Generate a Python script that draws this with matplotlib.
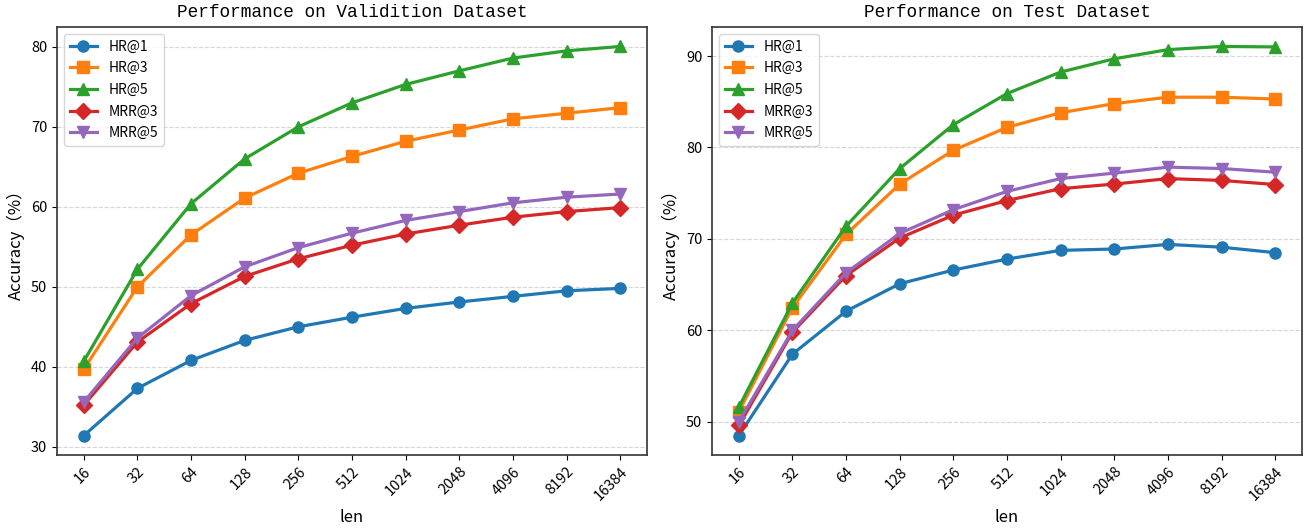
import matplotlib
matplotlib.use("Agg")
import matplotlib.pyplot as plt

plt.rcParams['font.family'] = ['Noto Sans CJK SC', 'DejaVu Sans']
plt.rcParams['axes.unicode_minus'] = False

lens = ["16", "32", "64", "128", "256", "512", "1024", "2048", "4096", "8192", "16384"]
series_names = ["HR@1", "HR@3", "HR@5", "MRR@3", "MRR@5"]
markers = ["o", "s", "^", "D", "v"]

val_hr1 = [31.4, 37.3, 40.8, 43.3, 45.0, 46.2, 47.3, 48.1, 48.8, 49.5, 49.8]
val_hr3 = [39.7, 50.0, 56.5, 61.1, 64.2, 66.3, 68.2, 69.6, 71.0, 71.7, 72.4]
val_hr5 = [40.7, 52.2, 60.4, 66.0, 70.0, 73.0, 75.3, 77.0, 78.6, 79.5, 80.05]
val_mrr3 = [35.2, 43.1, 47.9, 51.3, 53.5, 55.2, 56.6, 57.7, 58.7, 59.4, 59.9]
val_mrr5 = [35.6, 43.6, 48.9, 52.5, 54.9, 56.7, 58.3, 59.4, 60.5, 61.2, 61.6]

test_hr1 = [48.5, 57.4, 62.1, 65.1, 66.6, 67.8, 68.75, 68.9, 69.4, 69.1, 68.5]
test_hr3 = [51.1, 62.5, 70.5, 76.0, 79.7, 82.2, 83.8, 84.8, 85.5, 85.5, 85.3]
test_hr5 = [51.6, 63.0, 71.4, 77.7, 82.5, 85.9, 88.25, 89.7, 90.7, 91.05, 91.0]
test_mrr3 = [49.6, 59.8, 66.0, 70.1, 72.6, 74.2, 75.5, 76.0, 76.6, 76.4, 75.95]
test_mrr5 = [50.0, 60.0, 66.3, 70.6, 73.2, 75.2, 76.6, 77.2, 77.85, 77.7, 77.3]

val_data = [val_hr1, val_hr3, val_hr5, val_mrr3, val_mrr5]
test_data = [test_hr1, test_hr3, test_hr5, test_mrr3, test_mrr5]
titles = ["Performance on Validition Dataset", "Performance on Test Dataset"]

fig = plt.figure(figsize=(13.09, 5.30), dpi=100)
ax1 = fig.add_axes([57/1309, 1-455/530, 590/1309, 428/530])
ax2 = fig.add_axes([712/1309, 1-455/530, 590/1309, 428/530])

x = list(range(len(lens)))
for ax, data, title in zip([ax1, ax2], [val_data, test_data], titles):
    for name, m, ys in zip(series_names, markers, data):
        ax.plot(x, ys, marker=m, label=name, linewidth=2.3, markersize=8)
    ax.set_title(title, fontsize=12.8, family=['Liberation Mono', 'DejaVu Sans Mono'], pad=7)
    ax.set_xticks(x)
    ax.set_xticklabels(lens, rotation=45, ha='right', rotation_mode='anchor', fontsize=10.5)
    ax.tick_params(axis='y', labelsize=10.5)
    ax.set_xlabel("len", fontsize=12)
    ax.set_ylabel("Accuracy（%）", fontsize=12)
    ax.yaxis.grid(True, linestyle='--', color='#cccccc', alpha=0.8)
    ax.set_axisbelow(True)
    for s in ax.spines.values():
        s.set_color('#333333')
        s.set_linewidth(1.2)
    ax.legend(loc='upper left', fontsize=10, handlelength=2.0, labelspacing=0.55)

fig.savefig("out.png", dpi=100)
